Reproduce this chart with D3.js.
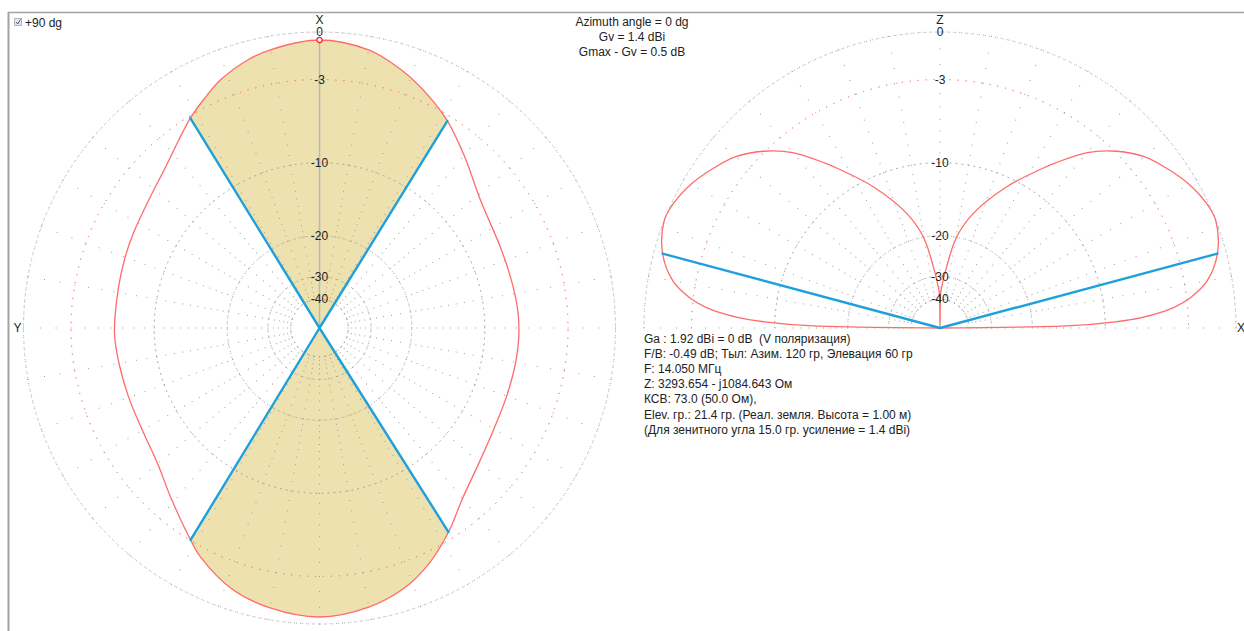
<!DOCTYPE html>
<html><head><meta charset="utf-8">
<script src="https://cdn.jsdelivr.net/npm/d3@7"></script>
<style>
body{margin:0;background:#fff;overflow:hidden;}
svg text{font-family:"Liberation Sans",Arial,sans-serif;fill:#222;white-space:pre;}
</style></head><body>
<svg id="chart" width="1244" height="631"></svg>
<script>
// ring levels (dB) and their labels
const ringLevels = [0, -3, -10, -20, -30, -40];
const ringLabels = ["0", "-3", "-10", "-20", "-30", "-40"];
// radial dot marks: every 1 dB to -20, then every 2 dB to -40
const dotLevels = d3.range(0, -20, -1).concat(d3.range(-20, -41, -2));

// horizontal (azimuth) pattern: azimuth angle in degrees, counter-clockwise from X, gain in dB
const azAngles = [0, 10, 15, 21.8, 27, 31.6, 37, 43.7, 52.9, 62.9, 70, 78.5, 91.4, 99.9, 109.9, 119.9, 129.8, 138.6, 148.7, 152.5, 161.8, 170,
                  180, 190, 198, 205, 212.3, 220, 230, 240, 250, 260, 267.5, 275.2, 283.1, 293.3, 308.5, 320, 328.3, 333, 340, 345, 350];
const azGains  = [-0.47, -0.8, -1.11, -1.77, -2.5, -3.14, -4.0, -4.88, -5.6, -5.98, -6.15, -6.3, -6.3, -6.42, -6.47, -6.35, -5.81, -4.69, -3.03, -2.36, -1.21, -0.7,
                  -0.41, -0.75, -1.35, -2.25, -3.5, -4.9, -6.0, -6.6, -6.8, -6.8, -6.77, -6.81, -6.92, -6.9, -6.25, -4.7, -3.36, -2.7, -1.8, -1.25, -0.8];
// -3 dB beam edges (azimuth, degrees)
const beamEdges = [31.6, 148.7, 212.3, 328.3];

// vertical (elevation) pattern: elevation angle in degrees from X, gain in dB
const elAngles = [0, 1, 2, 3, 5, 7, 10, 15, 21.4, 25, 30, 35, 40, 45, 50, 55, 57.4, 64.7, 73.8, 79.6, 83.8, 87.6, 89, 90,
                  91, 92.4, 96.2, 100.4, 106.2, 115.3, 122.6, 125, 130, 135, 140, 145, 150, 155, 158.6, 165, 170, 173, 175, 177, 178, 179, 180];
const elGains  = [-99, -14, -9, -6.5, -4.0, -2.7, -1.5, -0.52, 0, -0.1, -0.5, -1.1, -1.8, -2.9, -4.4, -6.6, -7.7, -10.96, -15.58, -19.9, -26.9, -33.8, -37, -99,
                  -37, -33.8, -26.9, -19.9, -15.58, -10.96, -7.7, -6.6, -4.4, -2.9, -1.8, -1.1, -0.5, -0.1, 0, -0.52, -1.5, -2.7, -4.0, -6.5, -9, -14, -99];
// elevation of the Gv marker lines
const elMarkers = [15, 165];

const headerLines = ["Azimuth angle = 0 dg", "Gv = 1.4 dBi", "Gmax - Gv = 0.5 dB"];
const infoLines = [
  "Ga : 1.92 dBi = 0 dB  (V поляризация)",
  "F/B: -0.49 dB; Тыл: Азим. 120 гр, Элевация 60 гр",
  "F: 14.050 МГц",
  "Z: 3293.654 - j1084.643 Ом",
  "КСВ: 73.0 (50.0 Ом),",
  "Elev. гр.: 21.4 гр. (Реал. земля. Высота = 1.00 м)",
  "(Для зенитного угла 15.0 гр. усиление = 1.4 dBi)"
];

const svg = d3.select("#chart");
const R = 296;
const deg = Math.PI / 180;
// ARRL-style log scale: 2 dB per 0.89 of radius
const gainScale = d3.scaleLog().domain([Math.pow(0.89, 20), 1]).range([-40, 0]);
const rad = db => R * gainScale.invert(db);

const gridColor = "#9c9c9c";
const redGrid = "#f27c7c";
const patternColor = "#ff6b6b";
const beamColor = "#1ea0dc";
const fillColor = "#ede1b0";

// frame
svg.append("line").attr("x1", 8).attr("x2", 1244).attr("y1", 12.5).attr("y2", 12.5)
  .attr("stroke", "#a4a4a4").attr("stroke-width", 1.5);
svg.append("line").attr("x1", 8.5).attr("x2", 8.5).attr("y1", 12).attr("y2", 631)
  .attr("stroke", "#a4a4a4").attr("stroke-width", 2);

// checkbox
svg.append("rect").attr("x", 14.5).attr("y", 18.5).attr("width", 7).attr("height", 7)
  .attr("fill", "#e6e6ee").attr("stroke", "#b4b4b8");
svg.append("path").attr("d", "M16,22 L17.8,24 L20.5,19.5").attr("fill", "none")
  .attr("stroke", "#4a5a7a").attr("stroke-width", 1);
svg.append("text").attr("x", 25).attr("y", 26.5).attr("font-size", 12).text("+90 dg");

// header
svg.selectAll("text.hdr").data(headerLines).join("text").attr("class", "hdr")
  .attr("x", 632).attr("y", (d, i) => 25.5 + i * 15).attr("text-anchor", "middle")
  .attr("font-size", 12).text(d => d);

// info block
svg.selectAll("text.info").data(infoLines).join("text").attr("class", "info")
  .attr("x", 644).attr("y", (d, i) => 342.5 + i * 15.2).attr("font-size", 12).text(d => d);

function drawGrid(g, angles, full) {
  ringLevels.forEach(lv => {
    const r = rad(lv);
    const arc = full
      ? d3.arc()({innerRadius: r, outerRadius: r, startAngle: 0, endAngle: 2 * Math.PI})
      : d3.arc()({innerRadius: r, outerRadius: r, startAngle: -Math.PI / 2, endAngle: Math.PI / 2});
    g.append("path").attr("d", arc).attr("fill", "none")
      .attr("stroke", lv === -3 ? redGrid : gridColor)
      .attr("stroke-width", 1)
      .attr("stroke-dasharray", lv === -3 ? "1 7" : "1 5");
  });
  const dots = [];
  angles.forEach(a => dotLevels.forEach(lv => dots.push(d3.pointRadial(a, rad(lv)))));
  g.selectAll("rect.dot").data(dots).join("rect").attr("class", "dot")
    .attr("x", d => d[0] - 0.5).attr("y", d => d[1] - 0.5)
    .attr("width", 1).attr("height", 1).attr("fill", gridColor);
}

function drawLabels(g, axisName) {
  g.selectAll("text.lvl").data(ringLevels).join("text").attr("class", "lvl")
    .attr("x", 0).attr("y", d => -rad(d)).attr("dy", "0.35em")
    .attr("text-anchor", "middle").attr("font-size", 12)
    .text((d, i) => ringLabels[i]);
  g.append("text").attr("x", 0).attr("y", -R - 12).attr("dy", "0.3em")
    .attr("text-anchor", "middle").attr("font-size", 12).text(axisName);
}

// ---------- horizontal pattern ----------
const left = svg.append("g").attr("transform", "translate(319.5,328)");
const azPts = azAngles.map((a, i) => ({a: -a * deg, r: rad(azGains[i])}));
const azLine = d3.lineRadial().angle(d => d.a).radius(d => d.r)
  .curve(d3.curveCatmullRomClosed.alpha(0.5));

// shaded main/back lobe sectors between -3 dB edges
const sectors = [[beamEdges[3] - 360, beamEdges[0]], [beamEdges[1], beamEdges[2]]];
const clip = left.append("clipPath").attr("id", "lobeClip");
sectors.forEach(([p1, p2]) => {
  clip.append("path").attr("d", d3.arc()({innerRadius: 0, outerRadius: R + 10,
    startAngle: -p2 * deg, endAngle: -p1 * deg}));
});
left.append("path").attr("d", azLine(azPts)).attr("fill", fillColor)
  .attr("clip-path", "url(#lobeClip)");

drawGrid(left, d3.range(0, 360, 10).map(a => a * deg), true);

// direction of maximum
const maxP = d3.pointRadial(0, rad(azGains[0]));
left.append("line").attr("x1", 0).attr("y1", 0).attr("x2", maxP[0]).attr("y2", maxP[1])
  .attr("stroke", "#b9b9b9").attr("stroke-width", 1.5);

left.append("path").attr("d", azLine(azPts)).attr("fill", "none")
  .attr("stroke", patternColor).attr("stroke-width", 1.3);

beamEdges.forEach(a => {
  const i = azAngles.indexOf(a);
  const p = d3.pointRadial(-a * deg, rad(azGains[i]));
  left.append("line").attr("x1", 0).attr("y1", 0).attr("x2", p[0]).attr("y2", p[1])
    .attr("stroke", beamColor).attr("stroke-width", 2.4).attr("stroke-linecap", "round");
});
left.append("circle").attr("cx", maxP[0]).attr("cy", maxP[1]).attr("r", 2.6)
  .attr("fill", "#fff").attr("stroke", "#ff2020").attr("stroke-width", 1.3);

drawLabels(left, "X");
left.append("text").attr("x", -R - 6).attr("y", 0).attr("dy", "0.35em")
  .attr("text-anchor", "middle").attr("font-size", 12).text("Y");

// ---------- vertical pattern ----------
const right = svg.append("g").attr("transform", "translate(940,328)");
drawGrid(right, d3.range(0, 181, 10).map(a => (90 - a) * deg), false);
const elPts = elAngles.map((a, i) => ({a: (90 - a) * deg, r: rad(elGains[i])}));
const elLine = d3.lineRadial().angle(d => d.a).radius(d => d.r)
  .curve(d3.curveCatmullRom.alpha(0.5));
right.append("path").attr("d", elLine(elPts)).attr("fill", "none")
  .attr("stroke", patternColor).attr("stroke-width", 1.3);
elMarkers.forEach(a => {
  const i = elAngles.indexOf(a);
  const p = d3.pointRadial((90 - a) * deg, rad(elGains[i]));
  right.append("line").attr("x1", 0).attr("y1", 0).attr("x2", p[0]).attr("y2", p[1])
    .attr("stroke", beamColor).attr("stroke-width", 2.4).attr("stroke-linecap", "round");
});
drawLabels(right, "Z");
right.append("text").attr("x", R + 5).attr("y", 0).attr("dy", "0.35em")
  .attr("text-anchor", "middle").attr("font-size", 12).text("X");
</script>
</body></html>
